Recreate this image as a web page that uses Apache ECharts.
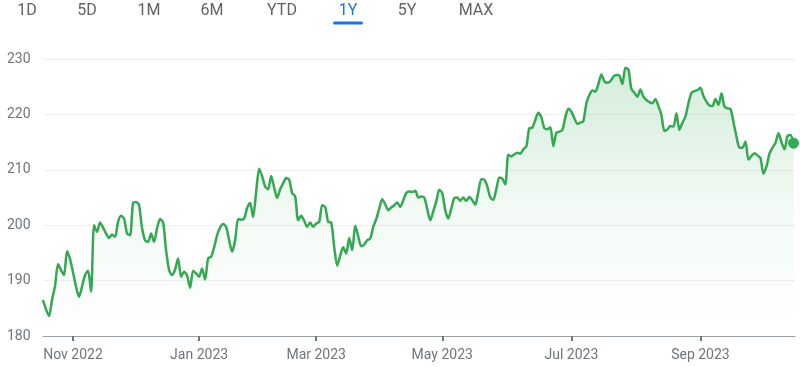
<!DOCTYPE html>
<html>
<head>
<meta charset="utf-8">
<script src="https://cdn.jsdelivr.net/npm/echarts@6/dist/echarts.min.js"></script>
<style>
  html, body { margin: 0; padding: 0; background: #ffffff; }
  #chart { width: 800px; height: 367px; }
</style>
</head>
<body>
<div id="chart"></div>
<script>
// Range tabs
const tabLabels = ['1D', '5D', '1M', '6M', 'YTD', '1Y', '5Y', 'MAX'];
const activeTab = '1Y';

// Closing prices, one per trading day (index 0 = 18 Oct 2022 ... index 250 = 17 Oct 2023)
const prices = [
  186.5, 184.8, 183.6, 186.5, 189.0, 193.0, 191.9, 191.0, 195.3, 193.9,
  191.5, 188.9, 187.1, 188.9, 191.0, 191.8, 188.0, 200.0, 198.8, 200.5,
  199.6, 198.5, 197.7, 198.3, 197.9, 200.6, 201.7, 201.2, 198.5, 198.2,
  204.0, 204.2, 203.6, 199.5, 197.3, 197.0, 198.5, 197.0, 199.5, 201.1,
  200.5, 195.5, 191.9, 191.0, 192.0, 194.0, 190.7, 191.6, 190.9, 188.7,
  191.8, 191.3, 190.7, 192.2, 190.2, 194.0, 194.3, 196.0, 198.2, 199.6,
  200.2, 199.7, 197.3, 195.2, 197.3, 201.1, 201.0, 201.2, 203.1, 204.0,
  201.5, 206.0, 210.2, 208.8, 207.0, 206.5, 208.9, 206.8, 204.9, 206.5,
  207.6, 208.5, 208.2, 205.8, 205.2, 200.9, 201.7, 200.8, 199.7, 200.5,
  199.7, 200.3, 200.6, 203.6, 203.3, 200.6, 200.5, 196.1, 192.7, 194.5,
  196.0, 194.9, 197.7, 195.5, 199.9, 198.0, 196.2, 196.5, 197.3, 197.6,
  199.7, 201.1, 203.0, 204.7, 203.8, 202.7, 203.2, 203.6, 204.1, 203.3,
  204.5, 205.8, 206.1, 206.0, 206.2, 205.0, 205.2, 205.0, 202.9, 200.9,
  202.5, 204.3, 206.4, 205.8, 202.7, 201.2, 203.0, 204.9, 205.0, 204.4,
  205.0, 204.4, 205.1, 204.5, 203.7, 206.0, 208.3, 208.2, 207.0, 205.0,
  204.6, 206.5, 208.6, 208.4, 207.4, 212.7, 212.4, 212.8, 213.1, 212.9,
  213.7, 214.2, 217.5, 217.6, 219.0, 220.3, 219.5, 217.5, 217.3, 217.7,
  214.3, 216.7, 216.9, 217.2, 219.5, 221.0, 220.5, 219.3, 218.3, 218.5,
  218.8, 222.0, 223.5, 224.3, 224.1, 225.5, 227.2, 226.0, 225.7, 226.0,
  226.8, 227.1, 227.0, 225.5, 228.4, 228.1, 224.6, 223.9, 223.2, 224.5,
  223.2, 222.6, 222.2, 222.0, 222.8, 221.5, 219.9, 217.0, 217.3, 217.9,
  217.8, 220.2, 217.2, 218.5, 219.6, 222.0, 223.9, 224.2, 224.4, 224.8,
  223.3, 222.3, 221.6, 221.5, 222.8, 221.7, 223.8, 221.4, 221.1, 221.0,
  218.6, 216.0, 214.0, 214.0, 215.1, 211.8, 212.5, 213.0, 212.6, 212.1,
  209.3, 210.6, 212.9, 214.0, 214.9, 216.6, 215.0, 213.7, 216.1, 216.3,
  214.8
];

// X-axis ticks: trading-day index of first session of each labelled month
const tickDays = [10, 52, 91, 133, 176, 219];
const tickLabels = ['Nov 2022', 'Jan 2023', 'Mar 2023', 'May 2023', 'Jul 2023', 'Sep 2023'];

// Y-axis
const yMin = 180, yMax = 230, yStep = 10;

const lineData = prices.map((v, i) => [i, v]);
const lastPoint = [[prices.length - 1, prices[prices.length - 1]]];

const GREEN = '#34a853';
const LABEL = '#70757a';

// tab graphics
const tabCenters = [27, 87, 149, 212, 282, 348, 407, 476];
const graphics = tabLabels.map((t, i) => ({
  type: 'text',
  x: tabCenters[i],
  y: 11,
  style: {
    text: t,
    fill: t === activeTab ? '#1a73e8' : '#5f6368',
    font: '16px Roboto',
    align: 'center',
    verticalAlign: 'middle'
  }
}));
graphics.push({
  type: 'rect',
  shape: { x: 333, y: 21.5, width: 30, height: 3, r: 1.5 },
  style: { fill: '#1a73e8' }
});

const chart = echarts.init(document.getElementById('chart'), null, { renderer: 'canvas' });
chart.setOption({
  animation: false,
  backgroundColor: '#ffffff',
  graphic: graphics,
  grid: { left: 43, right: 5, top: 59, bottom: 31, containLabel: false },
  xAxis: {
    type: 'value',
    min: 0,
    max: 250.5,
    axisLine: { show: true, lineStyle: { color: '#9aa0a6', width: 1 } },
    axisTick: {
      show: true,
      customValues: tickDays,
      length: 5,
      lineStyle: { color: '#70757a', width: 2 }
    },
    axisLabel: {
      customValues: tickDays,
      formatter: (val) => {
        const k = tickDays.indexOf(Math.round(val));
        return k >= 0 ? tickLabels[k] : '';
      },
      color: LABEL,
      fontSize: 14,
      fontFamily: 'Roboto',
      margin: 12
    },
    splitLine: { show: false }
  },
  yAxis: {
    type: 'value',
    min: yMin,
    max: yMax,
    interval: yStep,
    axisLine: { show: false },
    axisTick: { show: false },
    axisLabel: {
      color: LABEL,
      fontSize: 14,
      fontFamily: 'Roboto',
      align: 'left',
      margin: 36
    },
    splitLine: { show: true, lineStyle: { color: '#efefef', width: 1 } }
  },
  series: [
    {
      type: 'line',
      data: lineData,
      showSymbol: false,
      symbol: 'none',
      smooth: 0.25,
      lineStyle: { color: GREEN, width: 2.5 },
      areaStyle: {
        color: new echarts.graphic.LinearGradient(0, 0, 0, 1, [
          { offset: 0, color: 'rgba(52,168,83,0.30)' },
          { offset: 0.55, color: 'rgba(52,168,83,0.08)' },
          { offset: 1, color: 'rgba(52,168,83,0.0)' }
        ])
      },
      z: 3
    },
    {
      type: 'scatter',
      data: lastPoint,
      symbol: 'circle',
      symbolSize: 11,
      itemStyle: { color: GREEN, opacity: 1 },
      z: 4
    }
  ]
});
</script>
</body>
</html>
